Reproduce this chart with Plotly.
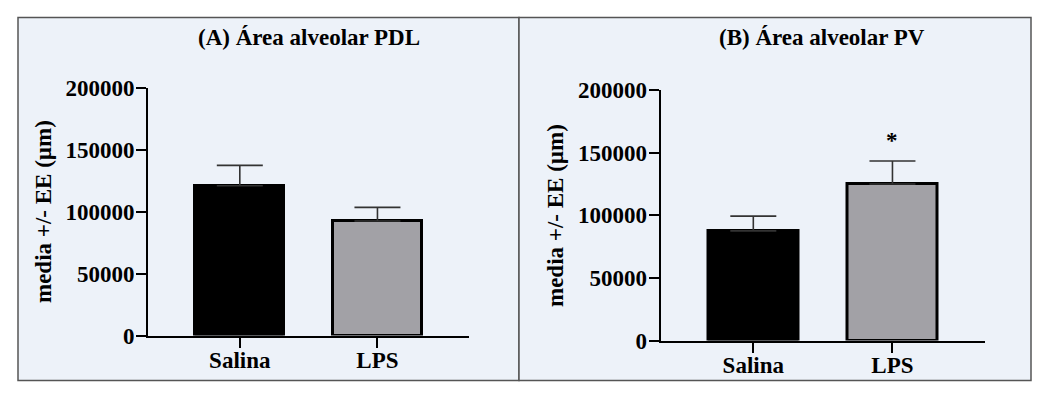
import plotly.graph_objects as go

# ---- data ----
categories = ["Salina", "LPS"]
pdl_mean = [121000, 92500]
pdl_se = [16500, 11000]
pv_mean = [87500, 125000]
pv_se = [11800, 18300]
ytick_vals = [0, 50000, 100000, 150000, 200000]
ytick_text = ["0", "50000", "100000", "150000", "200000"]
titles = ["(A) Área alveolar PDL", "(B) Área alveolar PV"]
ytitle = "media +/- EE (µm)"
significance = ["", "*"]

W, H = 1047, 394
FONT = "Liberation Serif"
bar_fill = ["#000000", "#a2a1a6"]

def px(x):
    return x / W

def py(y):
    return 1 - y / H

fig = go.Figure()

for i, (means, ses) in enumerate([(pdl_mean, pdl_se), (pv_mean, pv_se)]):
    xa = "x" if i == 0 else "x2"
    ya = "y" if i == 0 else "y2"
    fig.add_trace(go.Bar(
        x=categories, y=means,
        xaxis=xa, yaxis=ya,
        width=0.645,
        marker=dict(color=bar_fill, line=dict(color="#000000", width=3)),
        error_y=dict(type="data", symmetric=False, array=ses,
                     arrayminus=[0] * len(ses), color="#333333",
                     thickness=1.6, width=23),
        showlegend=False,
        hoverinfo="skip",
    ))

axis_common = dict(
    type="category",
    automargin=False,
    showgrid=False, zeroline=False,
    showline=True, linecolor="#000000", linewidth=2,
    ticks="outside", ticklen=10, tickwidth=2, tickcolor="#000000",
    ticklabelstandoff=-7,
    tickfont=dict(family=FONT, size=23, color="#000000", weight="bold"),
    range=[-0.667, 1.665],
)
yaxis_common = dict(
    range=[0, 200000],
    automargin=False,
    showgrid=False, zeroline=False,
    showline=True, linecolor="#000000", linewidth=2,
    ticks="outside", ticklen=10, tickwidth=2, tickcolor="#000000",
    ticklabelstandoff=-3,
    tickvals=ytick_vals, ticktext=ytick_text,
    tickfont=dict(family=FONT, size=23, color="#000000", weight="bold"),
)

fig.update_layout(
    width=W, height=H,
    autosize=False,
    margin=dict(l=0, r=0, t=0, b=0, pad=0, autoexpand=False),
    paper_bgcolor="#ffffff",
    plot_bgcolor="rgba(0,0,0,0)",
    bargap=0,
    xaxis=dict(axis_common, domain=[px(148), px(469)], anchor="y"),
    yaxis=dict(yaxis_common, domain=[py(335.5), py(88)], anchor="x"),
    xaxis2=dict(axis_common, domain=[px(660.5), px(985)], anchor="y2"),
    yaxis2=dict(yaxis_common, domain=[py(340.5), py(90)], anchor="x2"),
)

# panel backgrounds
panels = [(18, 519), (519, 1031)]
for (x0, x1) in panels:
    fig.add_shape(type="rect", xref="paper", yref="paper",
                  x0=px(x0), x1=px(x1), y0=py(380.5), y1=py(17.5),
                  fillcolor="#edf2f9", line=dict(color="#555555", width=1.5),
                  layer="below")

# titles
title_pos = [(309, 37), (822, 37)]
for t, (tx, ty) in zip(titles, title_pos):
    fig.add_annotation(text=t, xref="paper", yref="paper",
                       x=px(tx), y=py(ty), showarrow=False,
                       xanchor="center", yanchor="middle",
                       font=dict(family=FONT, size=23, color="#000000", weight="bold"))

# y-axis titles
ytitle_pos = [(43, 211), (555, 216)]
for (tx, ty) in ytitle_pos:
    fig.add_annotation(text=ytitle, xref="paper", yref="paper",
                       x=px(tx), y=py(ty), showarrow=False, textangle=-90,
                       xanchor="center", yanchor="middle",
                       font=dict(family=FONT, size=23, color="#000000", weight="bold"))

# significance marks (panel B)
for cat, m, s, mark in zip(categories, pv_mean, pv_se, significance):
    if mark:
        fig.add_annotation(text=mark, xref="x2", yref="y2",
                           x=cat, y=m + s, showarrow=False,
                           xanchor="center", yanchor="bottom", yshift=6,
                           font=dict(family=FONT, size=23, color="#000000", weight="bold"))

fig.write_html(
    "out.html",
    config={"displayModeBar": False},
    post_script="document.body.style.margin='0';document.body.style.overflow='hidden';",
)
